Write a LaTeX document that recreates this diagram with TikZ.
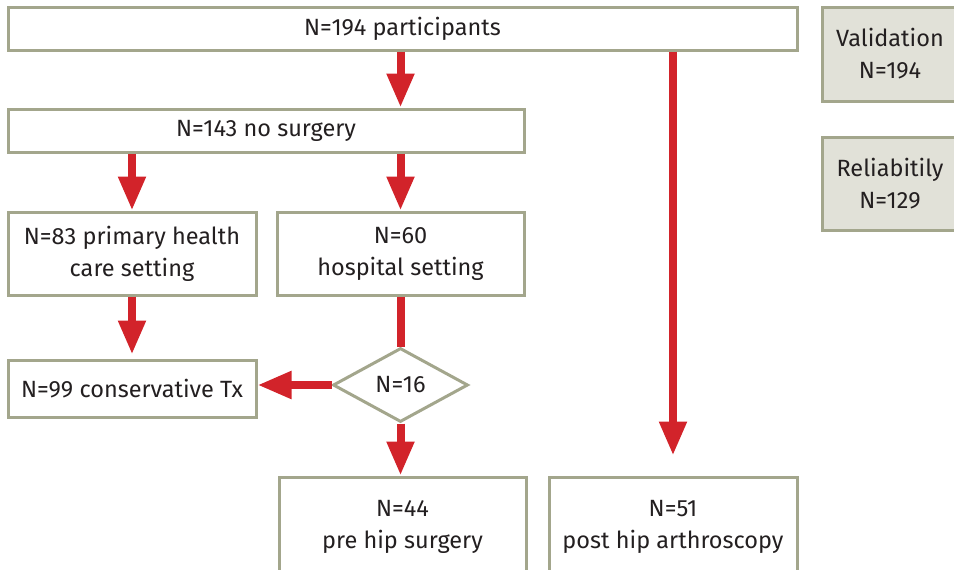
\documentclass[tikz,border=0pt]{standalone}
\usepackage{fontspec}
\setmainfont{Fira Sans}
\usetikzlibrary{arrows.meta,shapes.geometric}
\definecolor{bord}{HTML}{A3A68C}
\definecolor{redc}{HTML}{D2232A}
\definecolor{greyfill}{HTML}{E1E1D8}
\definecolor{txt}{HTML}{231F20}
\tikzset{
  box/.style={draw=bord, line width=3pt, fill=white, rectangle, inner sep=0pt, align=center,
     text=txt, font=\fontsize{23.5}{32}\selectfont},
  gbox/.style={box, fill=greyfill},
  arr/.style={draw=redc, line width=8pt, -{Triangle[width=26pt,length=34pt]}},
  ln/.style={draw=redc, line width=8pt},
}
\begin{document}
\begin{tikzpicture}[x=1pt,y=-1pt]
\useasboundingbox (0,0) rectangle (954,570);
\clip (0,0) rectangle (954,570);
\node[box, minimum width=789pt, minimum height=43pt] (top) at (402.5,28.5) {N=194 participants};
\node[box, minimum width=516pt, minimum height=43pt] (b2) at (266,130.5) {N=143 no surgery};
\node[box, minimum width=248pt, minimum height=83pt] (b3) at (132,253.5) {N=83 primary health\\care setting};
\node[box, minimum width=247pt, minimum height=83pt] (b4) at (400.5,253.5) {N=60\\hospital setting};
\node[box, minimum width=248pt, minimum height=57pt] (b5) at (132,388.5) {N=99 conservative Tx};
\node[box, diamond, minimum width=135pt, minimum height=74pt] (d) at (400.5,385) {N=16};
\node[box, minimum width=247pt, minimum height=100pt] (b6) at (402.5,527) {N=44\\pre hip surgery};
\node[box, minimum width=248pt, minimum height=100pt] (b7) at (673,527) {N=51\\post hip arthroscopy};
\node[gbox, minimum width=136pt, minimum height=94pt] (v) at (890,54) {Validation\\N=194};
\node[gbox, minimum width=136pt, minimum height=93pt] (r) at (890,183.5) {Reliabitily\\N=129};
\draw[arr] (top.south -| b4) -- (b2.north -| b4);
\draw[arr] (b2.south -| b3) -- (b3.north);
\draw[arr] (b2.south -| b4) -- (b4.north);
\draw[arr, shorten >=4pt] (b3.south) -- (b5.north);
\draw[ln] (b4.south) -- (d.north);
\draw[arr] (d.west) -- (b5.east |- d.west);
\draw[arr] (d.south) -- (b6.north -| d.south);
\draw[arr, shorten >=20pt] (top.south -| b7) -- (b7.north);
\end{tikzpicture}
\end{document}
